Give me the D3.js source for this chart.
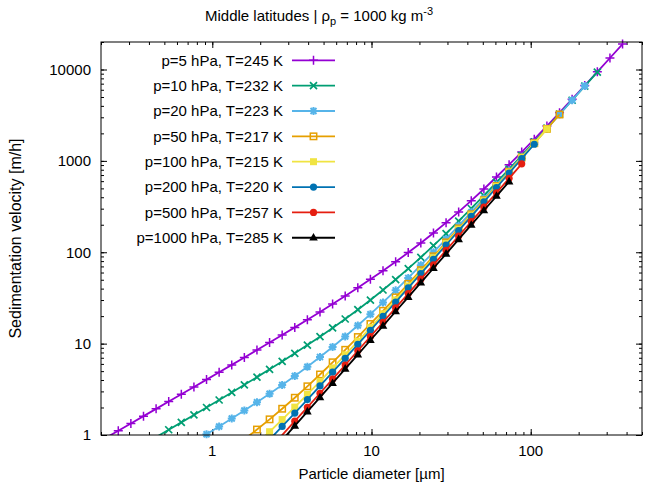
<!DOCTYPE html>
<html>
<head>
<meta charset="utf-8">
<script src="https://cdn.jsdelivr.net/npm/d3@7"></script>
<style>
body { margin: 0; background: #fff; }
text { font-family: "Liberation Sans", Arial, sans-serif; font-size: 15px; fill: #000; }
</style>
</head>
<body>
<svg width="646" height="487"></svg>
<script>
// particle diameters [um], same grid for every curve (each curve starts at its own index)
var diameters = [0.214, 0.2568, 0.3081, 0.3698, 0.4437, 0.5325, 0.6390, 0.7668, 0.9201, 1.104,
  1.325, 1.590, 1.908, 2.290, 2.747, 3.297, 3.956, 4.748, 5.697, 6.836,
  8.204, 9.844, 11.81, 14.18, 17.01, 20.41, 24.50, 29.40, 35.27, 42.33,
  50.80, 60.95, 73.15, 87.77, 105.3, 126.4, 151.7, 182.0, 218.4, 262.1,
  314.5, 377.4];

// sedimentation velocity [m/h]
var v5 = [0.928, 1.115, 1.339, 1.608, 1.932, 2.322, 2.791, 3.356, 4.038, 4.860,
  5.854, 7.056, 8.512, 10.28, 12.43, 15.06, 18.28, 22.24, 27.14, 33.23,
  40.86, 50.49, 62.77, 78.57, 99.14, 126.2, 162.2, 210.7, 276.6, 367.0,
  492.0, 665.8, 908.7, 1250, 1729, 2407, 3366, 4728, 6665, 9426, 13370, 19000];
var v10 = [0.948, 1.141, 1.374, 1.657, 1.999, 2.415, 2.921, 3.540, 4.298, 5.232,
  6.388, 7.828, 9.635, 11.92, 14.84, 18.60, 23.51, 29.98, 38.61, 50.26,
  66.12, 87.92, 118.1, 160.1, 218.8, 301.3, 417.5, 581.7, 814.2, 1145,
  1614, 2285, 3241, 4609, 6568, 9374];
var v20 = [0.838, 1.018, 1.239, 1.513, 1.855, 2.284, 2.827, 3.521, 4.417, 5.587,
  7.131, 9.193, 11.98, 15.77, 20.99, 28.22, 38.28, 52.36, 72.14, 100.0,
  139.4, 195.2, 274.5, 387.3, 548.2, 778.0, 1107, 1577, 2251, 3218, 4605, 6597];
var v50 = [0.898, 1.148, 1.484, 1.938, 2.558, 3.412, 4.596, 6.248, 8.561, 11.81,
  16.40, 22.88, 32.07, 45.14, 63.74, 90.27, 128.2, 182.4, 260.0, 371.3,
  530.9, 760.0, 1089, 1562, 2241, 3218];
var v100 = [0.807, 1.086, 1.475, 2.019, 2.783, 3.860, 5.383, 7.542, 10.61, 14.97,
  21.20, 30.09, 42.81, 61.02, 87.11, 124.5, 178.3, 255.4, 366.2, 525.4,
  754.4, 1084, 1557, 2238];
var v200 = [0.892, 1.242, 1.737, 2.440, 3.440, 4.865, 6.899, 9.807, 13.97, 19.93,
  28.48, 40.75, 58.36, 83.66, 120.0, 172.3, 247.4, 355.5, 511.0, 734.7, 1057, 1520];
var v500 = [0.706, 0.998, 1.415, 2.011, 2.864, 4.086, 5.838, 8.352, 11.96, 17.14,
  24.59, 35.30, 50.69, 72.83, 104.7, 150.5, 216.4, 311.3, 447.9, 644.5, 927.5];
var v1000 = [0.883, 1.260, 1.801, 2.577, 3.690, 5.290, 7.588, 10.89, 15.64, 22.48,
  32.30, 46.45, 66.79, 96.08, 138.2, 198.9, 286.2, 412.0, 593.0];

var labels = ["p=5 hPa, T=245 K", "p=10 hPa, T=232 K", "p=20 hPa, T=223 K", "p=50 hPa, T=217 K",
  "p=100 hPa, T=215 K", "p=200 hPa, T=220 K", "p=500 hPa, T=257 K", "p=1000 hPa, T=285 K"];
var starts = [0, 4, 7, 11, 12, 13, 13, 14];
var values = [v5, v10, v20, v50, v100, v200, v500, v1000];

var xMajor = [1, 10, 100];
var yMajor = [1, 10, 100, 1000, 10000];

var colors = ["#9400d3", "#009e73", "#56b4e9", "#e69f00", "#f0e442", "#0072b2", "#e51e10", "#000000"];
var shapes = ["plus", "cross", "star", "box", "boxf", "circle", "circle", "tri"];

var svg = d3.select("svg"),
    margin = {top: 42, right: 4, bottom: 52, left: 101},
    width = svg.attr("width") - margin.left - margin.right,
    height = svg.attr("height") - margin.top - margin.bottom;

svg.append("rect").attr("width", 646).attr("height", 487).attr("fill", "#fff");

var g = svg.append("g").attr("transform", "translate(" + margin.left + "," + margin.top + ")");

var x = d3.scaleLog().domain([0.2, 500]).range([0, width]),
    y = d3.scaleLog().domain([1, 20000]).range([height, 0]);

function minorTicks(lo, hi) {
  var t = [];
  for (var e = -1; e <= 4; e++) {
    for (var m = 1; m <= 9; m++) {
      var v = m * Math.pow(10, e);
      if (v >= lo * 0.999 && v <= hi * 1.001) t.push(+v.toPrecision(3));
    }
  }
  return t;
}
var xMinor = minorTicks(0.2, 500), yMinor = minorTicks(1, 20000);

function tickAxis(axis, vals, size) {
  return axis.tickValues(vals).tickSize(size).tickSizeOuter(0).tickFormat("");
}

// ticks pointing inwards on all four sides
[[xMinor, -3], [xMajor, -6]].forEach(function(t) {
  g.append("g").attr("transform", "translate(0," + height + ")").call(tickAxis(d3.axisBottom(x), t[0], t[1]));
  g.append("g").call(tickAxis(d3.axisTop(x), t[0], t[1]));
});
[[yMinor, -3], [yMajor, -6]].forEach(function(t) {
  g.append("g").call(tickAxis(d3.axisLeft(y), t[0], t[1]));
  g.append("g").attr("transform", "translate(" + width + ",0)").call(tickAxis(d3.axisRight(y), t[0], t[1]));
});
g.selectAll(".domain").remove();
g.selectAll(".tick line").attr("stroke", "#000").attr("stroke-width", 1);

g.selectAll(".xlab")
  .data(xMajor)
  .enter().append("text")
    .attr("x", function(d) { return x(d); })
    .attr("y", height + 21)
    .attr("text-anchor", "middle")
    .text(function(d) { return d; });

g.selectAll(".ylab")
  .data(yMajor)
  .enter().append("text")
    .attr("x", -10)
    .attr("y", function(d) { return y(d); })
    .attr("dy", "0.36em")
    .attr("text-anchor", "end")
    .text(function(d) { return d; });

g.append("clipPath").attr("id", "clip")
  .append("rect").attr("width", width).attr("height", height);

function marker(sel, shape, color) {
  if (shape == "plus") {
    sel.append("path").attr("d", "M-4.5,0H4.5M0,-4.5V4.5").attr("stroke", color).attr("stroke-width", 1.5);
  } else if (shape == "cross") {
    sel.append("path").attr("d", "M-3.5,-3.5L3.5,3.5M-3.5,3.5L3.5,-3.5").attr("stroke", color).attr("stroke-width", 1.7);
  } else if (shape == "star") {
    sel.append("path").attr("d", "M-4,0H4M0,-4V4M-3,-3L3,3M-3,3L3,-3").attr("stroke", color).attr("stroke-width", 2);
  } else if (shape == "box") {
    sel.append("rect").attr("x", -3.2).attr("y", -3.2).attr("width", 6.4).attr("height", 6.4)
      .attr("fill", "none").attr("stroke", color).attr("stroke-width", 1.5);
  } else if (shape == "boxf") {
    sel.append("rect").attr("x", -3.5).attr("y", -3.5).attr("width", 7).attr("height", 7).attr("fill", color);
  } else if (shape == "circle") {
    sel.append("circle").attr("r", 3.6).attr("fill", color);
  } else if (shape == "tri") {
    sel.append("path").attr("d", "M0,-4.8L4.3,2.8L-4.3,2.8Z").attr("fill", color);
  }
}

var line = d3.line()
    .x(function(d) { return x(d.d); })
    .y(function(d) { return y(d.v); });

var data = values.map(function(vals, i) {
  return {
    label: labels[i], color: colors[i], shape: shapes[i],
    points: vals.map(function(v, j) { return {d: diameters[starts[i] + j], v: v}; })
  };
});

data.forEach(function(s) {
  var sg = g.append("g");
  sg.append("path")
      .attr("clip-path", "url(#clip)")
      .attr("d", line(s.points))
      .attr("fill", "none")
      .attr("stroke", s.color)
      .attr("stroke-width", 1.8);
  sg.selectAll(".pt")
    .data(s.points.filter(function(p) { return p.v >= 1 && p.v <= 20000; }))
    .enter().append("g")
      .attr("transform", function(p) { return "translate(" + x(p.d) + "," + y(p.v) + ")"; })
      .each(function() { marker(d3.select(this), s.shape, s.color); });
});

// key
var key = svg.selectAll(".key")
  .data(data)
  .enter().append("g")
    .attr("transform", function(d, i) { return "translate(0," + (60.3 + i * 25.35) + ")"; });
key.append("text")
    .attr("x", 283)
    .attr("dy", "0.36em")
    .attr("text-anchor", "end")
    .text(function(d) { return d.label; });
key.append("path")
    .attr("d", "M292,0H335")
    .attr("stroke", function(d) { return d.color; })
    .attr("stroke-width", 1.8);
key.append("g")
    .attr("transform", "translate(313.5,0)")
    .each(function(d) { marker(d3.select(this), d.shape, d.color); });

// border
g.append("rect")
    .attr("width", width).attr("height", height)
    .attr("fill", "none").attr("stroke", "#000").attr("stroke-width", 1);

var title = svg.append("text")
    .attr("x", 205).attr("y", 21)
    .style("font-family", "'Liberation Sans Narrow', 'Arial Narrow', sans-serif");
title.append("tspan").text("Middle latitudes | \u03c1");
title.append("tspan").attr("dy", 4).style("font-size", "11px").text("p");
title.append("tspan").attr("dy", -4).text(" = 1000 kg m");
title.append("tspan").attr("dy", -6).style("font-size", "11px").text("-3");

svg.append("text")
    .attr("x", margin.left + width / 2).attr("y", 479)
    .attr("text-anchor", "middle")
    .text("Particle diameter [\u00b5m]");

svg.append("text")
    .attr("transform", "translate(21," + (margin.top + height / 2) + ") rotate(-90)")
    .attr("text-anchor", "middle")
    .style("font-size", "16px")
    .text("Sedimentation velocity [m/h]");
</script>
</body>
</html>
